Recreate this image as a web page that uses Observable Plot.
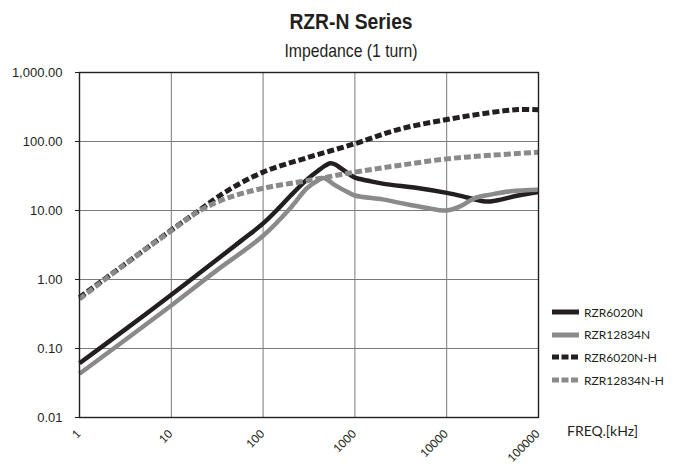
<!DOCTYPE html>
<html>
<head>
<meta charset="utf-8">
<script src="https://cdn.jsdelivr.net/npm/d3@7"></script>
<script src="https://cdn.jsdelivr.net/npm/@observablehq/plot@0.6"></script>
<style>
  html, body { margin: 0; padding: 0; background: #fff; }
  #wrap { position: relative; width: 674px; height: 464px; overflow: hidden; }
  .ttl { position: absolute; left: 251px; width: 200px; text-align: center; color: #231f20; line-height: 1;
         font-family: "Liberation Sans", Arial, sans-serif; white-space: nowrap; }
  #title { top: 11px; font-weight: bold; font-size: 22px; transform: scaleX(0.876); }
  #subtitle { top: 41px; font-size: 19px; transform: scaleX(0.83); }
  #legend { position: absolute; left: 552px; top: 301px; font-family: Lato, "Open Sans", sans-serif;
            font-size: 12px; color: #231f20; }
  .item { display: flex; align-items: center; height: 22.6px; }
  .item svg { margin-right: 4px; }
  #xlabel { position: absolute; left: 567px; top: 422px; font-family: Lato, "Open Sans", sans-serif;
            font-size: 14px; color: #231f20; }
  #chart { position: absolute; left: 0; top: 0; }
</style>
</head>
<body>
<div id="wrap">
  <div id="chart"></div>
  <div id="title" class="ttl">RZR-N Series</div>
  <div id="subtitle" class="ttl">Impedance (1 turn)</div>
  <div id="xlabel">FREQ.[kHz]</div>
  <div id="legend"></div>
</div>
<script>
// ---- data (frequency in kHz, impedance in ohms) ----
const seriesNames = ["RZR6020N", "RZR12834N", "RZR6020N-H", "RZR12834N-H"];

const f6020N = [1, 3, 10, 30, 57, 100, 150, 200, 300, 400, 480, 540, 620, 700, 820, 1000, 1400, 2000, 5000, 10000, 15000, 20000, 25000, 30000, 40000, 60000, 100000];
const z6020N = [0.061, 0.18, 0.6, 1.85, 3.6, 6.5, 11, 16.5, 28, 38, 45, 48.5, 46, 41, 35.5, 30, 27, 24.5, 21, 18, 16, 14.5, 13.6, 13.5, 14.5, 16.5, 18.5];

const f12834N = [1, 10, 30, 100, 200, 300, 400, 455, 520, 600, 800, 1000, 2000, 3000, 5000, 8000, 10000, 14000, 20000, 30000, 50000, 100000];
const z12834N = [0.043, 0.42, 1.3, 4.3, 11, 21, 27.5, 29.5, 27, 23.5, 19, 16.5, 14.5, 13, 11.4, 10.2, 10, 11.5, 15, 17, 19, 20];

const f6020NH = [1, 3, 10, 20, 40, 100, 300, 1000, 3000, 10000, 30000, 60000, 100000];
const z6020NH = [0.55, 1.6, 5.2, 10, 19, 36, 58, 93, 150, 208, 263, 290, 288];

const f12834NH = [1, 3, 10, 20, 40, 100, 300, 1000, 3000, 10000, 30000, 100000];
const z12834NH = [0.52, 1.6, 5.1, 9.8, 15, 21, 27, 36, 45, 56, 63, 70];

const xTicks = [1, 10, 100, 1000, 10000, 100000];
const yTicks = [0.01, 0.1, 1, 10, 100, 1000];

const BLACK = "#231f20", GRAY = "#8a8a8a";
const styles = {
  "RZR6020N":    {stroke: BLACK, dash: null},
  "RZR12834N":   {stroke: GRAY,  dash: null},
  "RZR6020N-H":  {stroke: BLACK, dash: "7,3"},
  "RZR12834N-H": {stroke: GRAY,  dash: "7,3"}
};

const toRows = (name, fs, zs) => fs.map((f, i) => ({series: name, f, z: zs[i]}));
const rows = {
  "RZR6020N": toRows("RZR6020N", f6020N, z6020N),
  "RZR12834N": toRows("RZR12834N", f12834N, z12834N),
  "RZR6020N-H": toRows("RZR6020N-H", f6020NH, z6020NH),
  "RZR12834N-H": toRows("RZR12834N-H", f12834NH, z12834NH)
};

const lineMarks = seriesNames.map(name => Plot.line(rows[name], {
  x: "f", y: "z", stroke: styles[name].stroke,
  strokeWidth: styles[name].dash ? 5 : 4.5,
  strokeDasharray: styles[name].dash || undefined,
  strokeLinecap: "butt", strokeLinejoin: "round",
  curve: "catmull-rom"
}));

const chart = Plot.plot({
  width: 674, height: 464,
  marginTop: 72, marginBottom: 47, marginLeft: 79, marginRight: 136,
  style: {fontFamily: "Liberation Sans, Arial, sans-serif", background: "white", color: BLACK},
  x: {type: "log", domain: [1, 100000], axis: null},
  y: {type: "log", domain: [0.01, 1000]},
  marks: [
    Plot.gridX(xTicks, {stroke: "#7a7a7a", strokeOpacity: 1, strokeWidth: 1}),
    Plot.gridY(yTicks, {stroke: "#7a7a7a", strokeOpacity: 1, strokeWidth: 1}),
    Plot.axisY(yTicks, {tickFormat: d3.format(",.2f"), tickSize: 4, tickPadding: 13, fontSize: 13, label: null, stroke: BLACK}),
    Plot.text(xTicks, {x: d => d, frameAnchor: "bottom", dy: 17, dx: 2, rotate: -45, textAnchor: "end",
      text: d => String(d), fontFamily: "Lato, Open Sans, sans-serif", fontSize: 11.5, fill: BLACK}),
    ...lineMarks,
    Plot.frame({stroke: BLACK, strokeWidth: 1.4})
  ]
});
document.getElementById("chart").appendChild(chart);

// legend
const legend = document.getElementById("legend");
seriesNames.forEach(name => {
  const s = styles[name];
  const item = document.createElement("div");
  item.className = "item";
  item.innerHTML = `<svg width="28" height="10"><line x1="0" x2="27" y1="5" y2="5" stroke="${s.stroke}" stroke-width="5" ${s.dash ? 'stroke-dasharray="7,2.5"' : ''}/></svg><span>${name}</span>`;
  legend.appendChild(item);
});
</script>
</body>
</html>
